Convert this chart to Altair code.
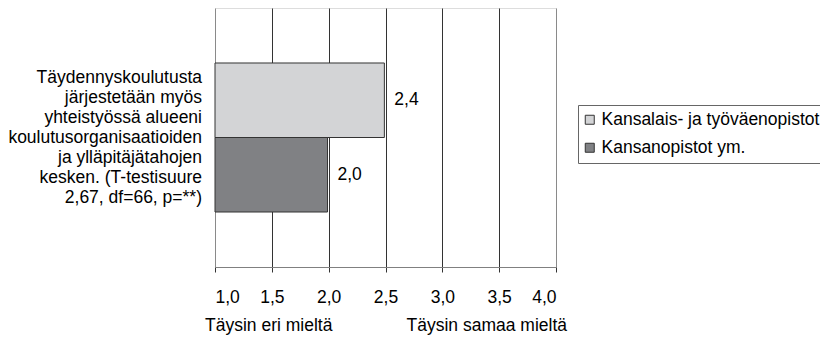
import altair as alt
import pandas as pd

series = ["Kansalais- ja työväenopistot", "Kansanopistot ym."]
values = [2.49, 1.99]
value_labels = ["2,4", "2,0"]
colors = ["#d3d4d6", "#808184"]
category_lines = [
    "Täydennyskoulutusta",
    "järjestetään myös",
    "yhteistyössä alueeni",
    "koulutusorganisaatioiden",
    "ja ylläpitäjätahojen",
    "kesken. (T-testisuure",
    "2,67, df=66, p=**)",
]
x_ticks = [1.0, 1.5, 2.0, 2.5, 3.0, 3.5, 4.0]
left_title = "Täysin eri mieltä"
right_title = "Täysin samaa mieltä"

FONT = "Liberation Sans"
FS = 17.5
W, H = 341, 259

df = pd.DataFrame({"series": series, "value": values, "label": value_labels})

xscale = alt.Scale(domain=[1, 4], nice=False, zero=False)
yenc = alt.Y("series:N", sort=series,
             scale=alt.Scale(paddingOuter=0.738, paddingInner=0), axis=None)

bars = alt.Chart(df).mark_bar(stroke="#333333", strokeWidth=1).encode(
    x=alt.X("value:Q", scale=xscale,
            axis=alt.Axis(values=x_ticks, title=None, grid=True,
                          gridColor=alt.condition("datum.value == 1 || datum.value == 4",
                                                  alt.value("#8a8a8a"), alt.value("#333333")),
                          gridWidth=1, domainColor="#808080", tickColor="#333333",
                          tickSize=5, labelPadding=16, labelFontSize=FS, labelFont=FONT,
                          labelColor="#000000",
                          labelExpr="replace(format(datum.value, '.1f'), '.', ',')")),
    x2=alt.datum(1),
    y=yenc,
    color=alt.Color("series:N", sort=series,
                    scale=alt.Scale(domain=series, range=colors),
                    legend=alt.Legend(title=None, orient="none", legendX=363, legendY=97,
                                      symbolType="square", symbolSize=81, symbolOffset=-3,
                                      symbolStrokeColor="#333333", symbolStrokeWidth=1,
                                      labelFontSize=FS, labelFont=FONT, labelColor="#000000",
                                      labelOffset=3, labelLimit=400, rowPadding=9,
                                      padding=6, strokeColor="#666666",
                                      fillColor="#ffffff")),
)

texts = alt.Chart(df).mark_text(align="left", baseline="middle", dx=10,
                                fontSize=FS, font=FONT, color="#000000").encode(
    x=alt.X("value:Q", scale=xscale),
    y=yenc,
    text="label:N",
)

cat = alt.Chart(pd.DataFrame({"k": [0]})).mark_text(
    text=category_lines, align="right", baseline="middle", lineHeight=20,
    fontSize=FS, font=FONT, color="#000000").encode(
    x=alt.value(-13), y=alt.value(H / 2 - 60))

titles_df = pd.DataFrame({"pos": [1.0, 4.0], "t": [left_title, right_title]})
tl = alt.Chart(titles_df.iloc[[0]]).mark_text(
    align="left", baseline="middle", dx=-10, fontSize=FS, font=FONT, color="#000000").encode(
    x=alt.X("pos:Q", scale=xscale), y=alt.value(318), text="t:N")
tr = alt.Chart(titles_df.iloc[[1]]).mark_text(
    align="right", baseline="middle", dx=11, fontSize=FS, font=FONT, color="#000000").encode(
    x=alt.X("pos:Q", scale=xscale), y=alt.value(318), text="t:N")

chart = alt.layer(bars, texts, cat, tl, tr).properties(
    width=W, height=H,
    autosize=alt.AutoSizeParams(type="none"),
    padding={"left": 207, "top": 0, "right": 264, "bottom": 72},
).configure_view(stroke="#808080", strokeWidth=1).configure(background="#ffffff")

chart.save("out.html", embed_options={"renderer": "svg", "actions": False})
